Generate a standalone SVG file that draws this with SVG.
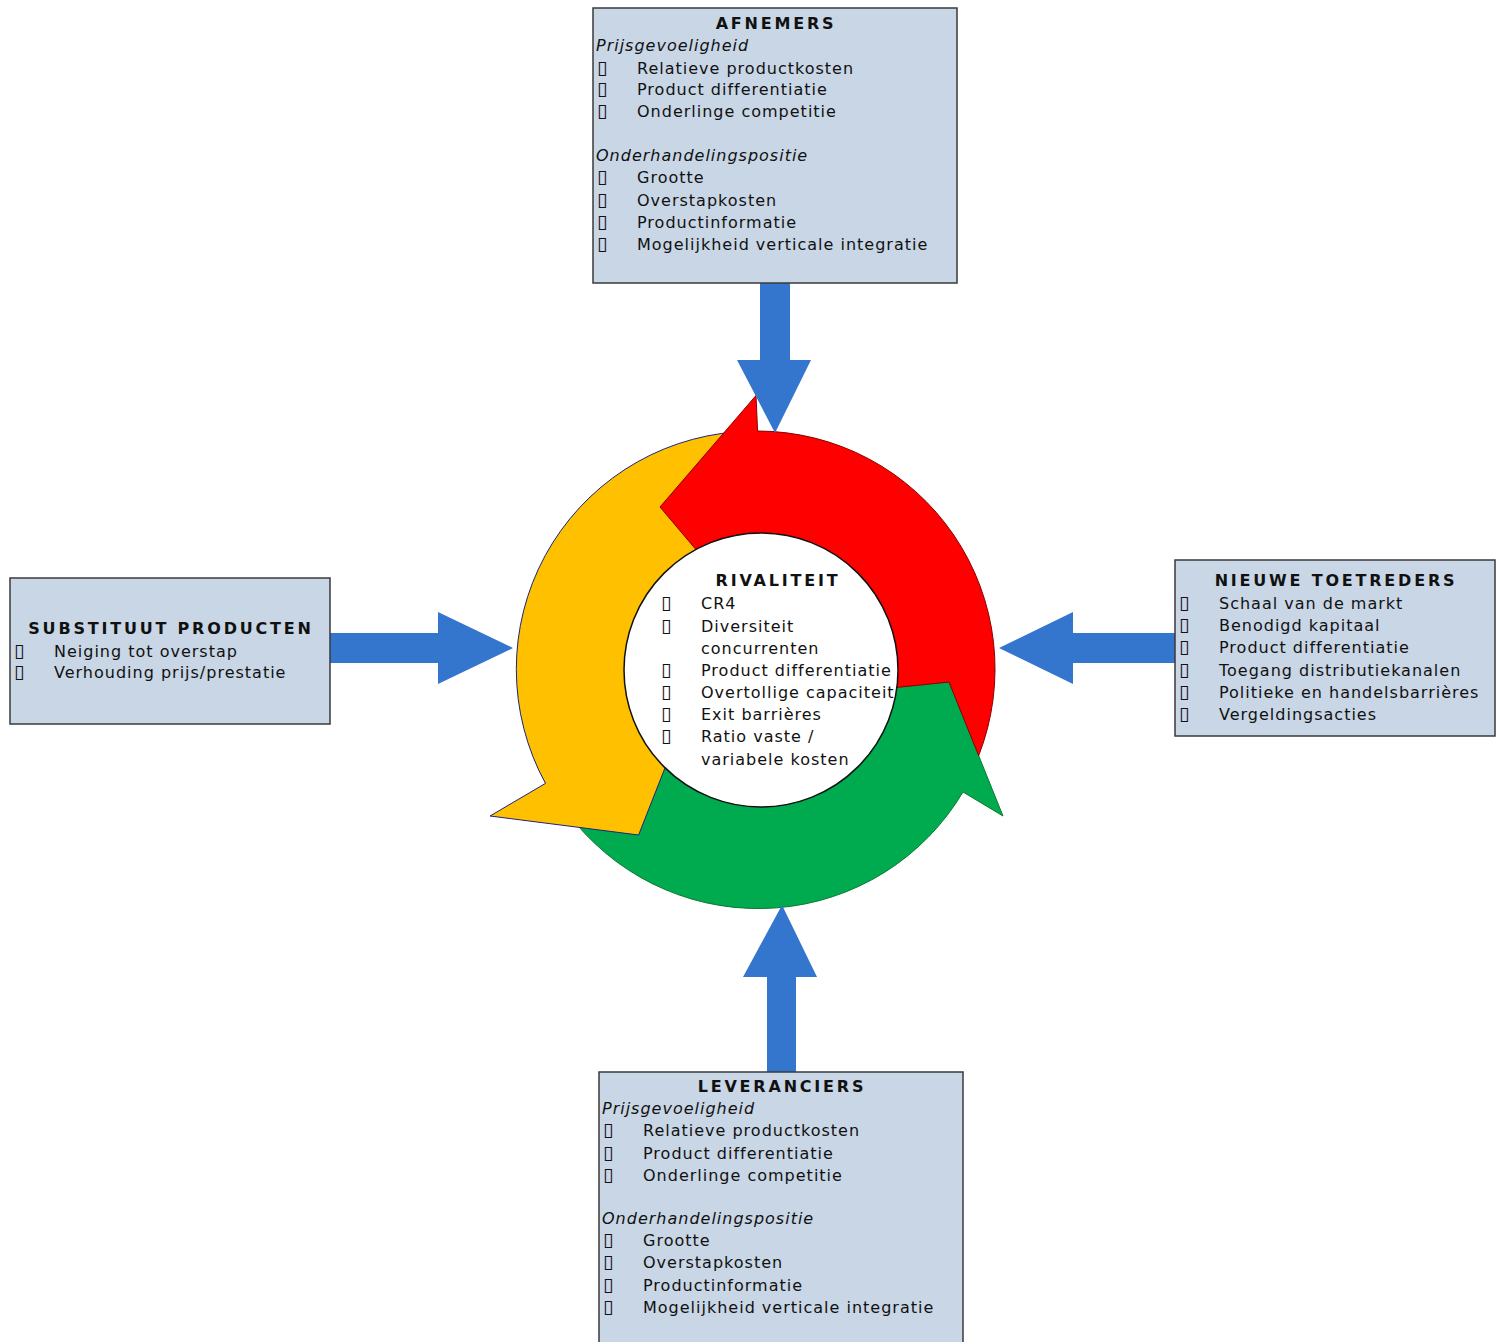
<svg xmlns="http://www.w3.org/2000/svg" width="1502" height="1342" viewBox="0 0 1502 1342">
<style>
.box{fill:#c8d6e6;stroke:#3a3a3a;stroke-width:1.5}
.t{font-family:'DejaVu Sans',Verdana,sans-serif;font-size:16px;fill:#111;letter-spacing:1px}
.h{font-weight:bold;letter-spacing:2.8px;text-anchor:middle}
.i{font-style:italic}
.cb{font-size:19px;letter-spacing:0;font-weight:bold}
.blue{fill:#3476cd}
</style>
<rect width="1502" height="1342" fill="#fff"/>
<g id="rivaliteit">
<path d="M 668.9,742.9 L 574.7,822 A 238 238 0 0 0 963,792 L 1003,816 L 949,682 L 871,690 A 115 115 0 0 1 668.9,742.9 Z" fill="#00aa4f" stroke="#0a7a30" stroke-width="1"/>
<path d="M 736.3,431.9 A 238 238 0 0 0 545.5,783.4 L 490,816 L 638.6,835 L 663,773 L 673.2,747 A 115 115 0 0 1 747,554.4 Z" fill="#ffc000" stroke="#1a237e" stroke-width="1"/>
<path d="M 871,690 L 949,682 L 978.7,755.6 A 238 238 0 0 0 757.6,431 L 756,395.5 L 660,507 L 695.5,549 L 708.6,564.5 A 115 115 0 0 1 871,690 Z" fill="#ff0000" stroke="#8b0000" stroke-width="1"/>
<circle cx="761" cy="670" r="137" fill="#fff" stroke="#111" stroke-width="1.5"/>
<text class="t h" x="778" y="586">RIVALITEIT</text>
<text class="t cb" x="661" y="609">▯</text><text class="t" x="701" y="609">CR4</text>
<text class="t cb" x="661" y="632">▯</text><text class="t" x="701" y="632">Diversiteit</text>
<text class="t" x="701" y="654">concurrenten</text>
<text class="t cb" x="661" y="676">▯</text><text class="t" x="701" y="676">Product differentiatie</text>
<text class="t cb" x="661" y="698">▯</text><text class="t" x="701" y="698">Overtollige capaciteit</text>
<text class="t cb" x="661" y="720">▯</text><text class="t" x="701" y="720">Exit barrières</text>
<text class="t cb" x="661" y="742">▯</text><text class="t" x="701" y="742">Ratio vaste /</text>
<text class="t" x="701" y="765">variabele kosten</text>
</g>
<g id="connectors">
<polygon class="blue" points="760,283 790,283 790,360 811,360 775,433 737,360 760,360"/>
<polygon class="blue" points="330,633 438,633 438,612 513,648 438,684 438,663 330,663"/>
<polygon class="blue" points="1175,633 1073,633 1073,612 999,648 1073,684 1073,663 1175,663"/>
<polygon class="blue" points="767,1072 767,977 743,977 782,905 817,977 796,977 796,1072"/>
</g>
<g id="afnemers">
<rect class="box" x="593" y="8" width="364" height="275"/>
<text class="t h" x="776" y="29">AFNEMERS</text>
<text class="t i" x="596" y="51">Prijsgevoeligheid</text>
<text class="t cb" x="597" y="74">▯</text><text class="t" x="637" y="74">Relatieve productkosten</text>
<text class="t cb" x="597" y="95">▯</text><text class="t" x="637" y="95">Product differentiatie</text>
<text class="t cb" x="597" y="117">▯</text><text class="t" x="637" y="117">Onderlinge competitie</text>
<text class="t i" x="596" y="161">Onderhandelingspositie</text>
<text class="t cb" x="597" y="183">▯</text><text class="t" x="637" y="183">Grootte</text>
<text class="t cb" x="597" y="206">▯</text><text class="t" x="637" y="206">Overstapkosten</text>
<text class="t cb" x="597" y="228">▯</text><text class="t" x="637" y="228">Productinformatie</text>
<text class="t cb" x="597" y="250">▯</text><text class="t" x="637" y="250">Mogelijkheid verticale integratie</text>
</g>
<g id="substituut">
<rect class="box" x="10" y="578" width="320" height="146"/>
<text class="t h" x="171" y="634">SUBSTITUUT PRODUCTEN</text>
<text class="t cb" x="14" y="657">▯</text><text class="t" x="54" y="657">Neiging tot overstap</text>
<text class="t cb" x="14" y="678">▯</text><text class="t" x="54" y="678">Verhouding prijs/prestatie</text>
</g>
<g id="toetreders">
<rect class="box" x="1175" y="560" width="320" height="176"/>
<text class="t h" x="1336" y="586">NIEUWE TOETREDERS</text>
<text class="t cb" x="1179" y="609">▯</text><text class="t" x="1219" y="609">Schaal van de markt</text>
<text class="t cb" x="1179" y="631">▯</text><text class="t" x="1219" y="631">Benodigd kapitaal</text>
<text class="t cb" x="1179" y="653">▯</text><text class="t" x="1219" y="653">Product differentiatie</text>
<text class="t cb" x="1179" y="676">▯</text><text class="t" x="1219" y="676">Toegang distributiekanalen</text>
<text class="t cb" x="1179" y="698">▯</text><text class="t" x="1219" y="698">Politieke en handelsbarrières</text>
<text class="t cb" x="1179" y="720">▯</text><text class="t" x="1219" y="720">Vergeldingsacties</text>
</g>
<g id="leveranciers">
<rect class="box" x="599" y="1072" width="364" height="285"/>
<text class="t h" x="782" y="1092">LEVERANCIERS</text>
<text class="t i" x="602" y="1114">Prijsgevoeligheid</text>
<text class="t cb" x="603" y="1136">▯</text><text class="t" x="643" y="1136">Relatieve productkosten</text>
<text class="t cb" x="603" y="1159">▯</text><text class="t" x="643" y="1159">Product differentiatie</text>
<text class="t cb" x="603" y="1181">▯</text><text class="t" x="643" y="1181">Onderlinge competitie</text>
<text class="t i" x="602" y="1224">Onderhandelingspositie</text>
<text class="t cb" x="603" y="1246">▯</text><text class="t" x="643" y="1246">Grootte</text>
<text class="t cb" x="603" y="1268">▯</text><text class="t" x="643" y="1268">Overstapkosten</text>
<text class="t cb" x="603" y="1291">▯</text><text class="t" x="643" y="1291">Productinformatie</text>
<text class="t cb" x="603" y="1313">▯</text><text class="t" x="643" y="1313">Mogelijkheid verticale integratie</text>
</g>
</svg>
